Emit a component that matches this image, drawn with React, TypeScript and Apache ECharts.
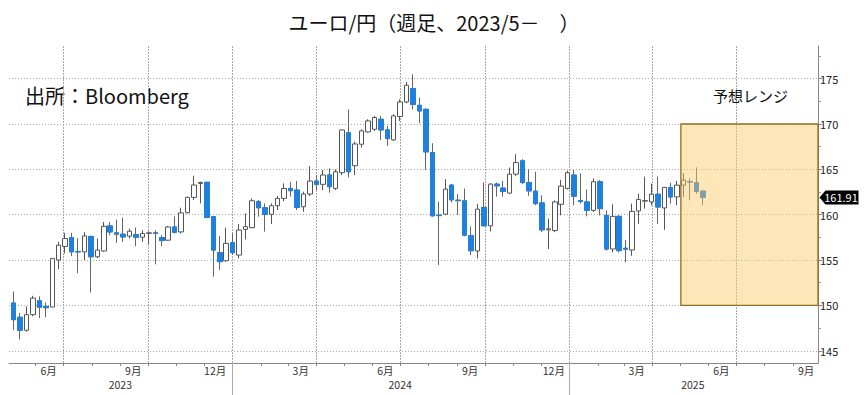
import React, { useEffect, useRef } from "react";
import * as echarts from "echarts";

// ---- data (weekly EUR/JPY) ----
const firstWeek = "2023-05-08";
const opens = [
  150.26, 148.69, 147.26, 148.98, 150.51, 149.9, 149.82, 155.0, 156.5, 157.48,
  155.95, 155.9, 157.6, 155.36, 156.0, 158.76, 158.0, 157.85, 157.63, 157.81,
  157.52, 157.95, 158.0, 157.48, 157.19, 158.65, 158.1, 160.22, 161.91, 163.45,
  163.57, 159.78, 155.81, 154.93, 156.91, 155.55, 158.38, 158.57, 161.43, 160.77,
  160.04, 160.99, 161.8, 162.9, 162.72, 160.88, 162.28, 163.71, 163.35, 164.38,
  162.9, 164.63, 169.04, 165.4, 167.77, 169.13, 169.42, 170.52, 169.35, 168.25,
  170.82, 172.43, 173.9, 172.06, 171.62, 166.85, 159.95, 160.06, 163.26, 161.6,
  161.53, 157.68, 156.0, 160.8, 158.78, 163.37, 162.93, 162.38, 164.47, 165.94,
  163.55, 162.59, 161.3, 158.33, 158.26, 161.15, 162.89, 164.37, 161.55, 161.41,
  160.48, 163.63, 159.93, 156.22, 159.82, 156.3, 156.11, 160.41, 161.5, 161.41,
  162.26, 160.74, 163.0, 161.96, 163.26, 163.65, 163.52, 162.59,
];
const closes = [
  148.43, 147.26, 148.98, 150.8, 149.78, 149.75, 155.18, 156.64, 157.37, 155.91,
  155.9, 157.66, 155.36, 156.1, 158.72, 158.1, 157.85, 157.55, 158.18, 157.52,
  157.92, 158.0, 157.95, 157.15, 158.65, 158.07, 160.2, 161.91, 163.27, 163.55,
  159.7, 156.1, 154.82, 156.84, 155.81, 158.31, 158.68, 161.54, 160.77, 160.04,
  160.99, 161.8, 162.9, 162.65, 160.81, 162.28, 163.71, 163.35, 164.38, 163.09,
  164.74, 169.34, 164.74, 167.8, 169.24, 170.34, 170.71, 169.35, 168.39, 170.89,
  172.43, 174.27, 172.17, 171.44, 166.93, 159.88, 159.9, 162.82, 161.64, 161.55,
  157.75, 156.03, 160.61, 158.78, 163.37, 163.18, 162.56, 164.47, 165.75, 163.55,
  162.63, 161.22, 158.33, 158.44, 161.41, 163.15, 164.63, 162.04, 161.45, 160.48,
  163.63, 160.67, 156.22, 159.82, 156.04, 156.2, 160.37, 161.67, 161.55, 162.26,
  160.85, 163.0, 161.96, 163.26, 163.81, 163.63, 162.59, 161.91,
];
const lows = [
  147.26, 146.24, 147.1, 148.8, 148.6, 148.7, 149.8, 154.0, 155.73, 155.44,
  153.55, 155.0, 151.42, 155.2, 155.9, 157.74, 156.9, 157.0, 157.37, 156.53,
  157.0, 156.75, 154.53, 156.53, 157.12, 157.92, 157.92, 160.15, 161.62, 161.25,
  159.6, 153.16, 153.9, 154.82, 155.55, 155.18, 157.28, 158.5, 159.78, 158.13,
  158.97, 160.51, 161.5, 161.99, 160.51, 160.33, 162.06, 162.72, 162.72, 162.43,
  162.72, 164.38, 164.12, 164.38, 167.4, 169.06, 169.24, 168.25, 167.59, 168.14,
  170.34, 172.28, 171.62, 170.08, 164.94, 159.8, 154.45, 159.95, 161.35, 159.99,
  157.61, 155.55, 155.18, 158.71, 158.16, 162.0, 162.0, 162.27, 164.28, 163.37,
  162.08, 161.04, 158.07, 156.22, 158.07, 159.93, 162.78, 161.04, 161.22, 159.82,
  160.3, 159.93, 156.04, 155.85, 155.85, 154.74, 155.48, 159.0, 160.67, 161.04,
  159.0, 158.33, 161.22, 161.04, 161.96, 161.6, 162.33, 161.04,
];
const highs = [
  151.53, 149.16, 149.89, 151.06, 151.0, 150.33, 155.2, 157.0, 158.0, 158.0,
  157.4, 158.07, 157.7, 157.37, 159.2, 159.2, 159.45, 159.67, 158.47, 158.58,
  158.28, 158.18, 158.28, 157.74, 158.76, 159.82, 160.77, 162.0, 164.3, 163.64,
  163.64, 159.85, 157.65, 158.57, 157.94, 158.97, 160.15, 161.8, 161.62, 161.25,
  161.25, 162.06, 163.46, 163.64, 163.71, 162.54, 165.37, 164.38, 164.93, 165.11,
  165.0, 169.4, 171.6, 168.05, 169.42, 170.52, 170.89, 170.89, 169.79, 171.07,
  172.72, 174.63, 175.48, 172.91, 171.7, 167.88, 161.42, 163.92, 163.37, 162.27,
  162.89, 158.71, 161.17, 163.55, 163.48, 163.55, 163.73, 165.2, 166.67, 166.12,
  165.0, 164.74, 162.15, 159.56, 161.59, 163.81, 164.85, 164.93, 164.56, 162.78,
  164.0, 163.81, 160.48, 161.15, 159.93, 157.22, 161.22, 162.33, 164.19, 163.44,
  164.19, 163.07, 163.52, 163.74, 164.56, 164.0, 165.22, 162.7,
];
const lastLabel = "161.91";

const xMin = "2023-05-03";
const xMax = "2025-09-28";
const yMin = 143.65;
const yMax = 178.6;
const yTickValues = [145, 150, 155, 160, 165, 170, 175];
const yMinorTickValues = [147.5, 152.5, 157.5, 162.5, 167.5, 172.5, 177.5];
const quarterStarts = [
  "2023-07-01", "2023-10-01", "2024-01-01", "2024-04-01", "2024-07-01",
  "2024-10-01", "2025-01-01", "2025-04-01", "2025-07-01",
];
const monthLabelDates = [
  "2023-06-15", "2023-09-15", "2023-12-13", "2024-03-15", "2024-06-15",
  "2024-09-15", "2024-12-15", "2025-03-15", "2025-06-15", "2025-09-15",
];
const yearStarts = ["2024-01-01", "2025-01-01"];
const yearLabelDates = ["2023-09-01", "2024-07-01", "2025-05-15"];
const rangeStart = "2025-05-02";
const rangeLow = 150;
const rangeHigh = 170;

const titleText = "ユーロ/円（週足、2023/5－　）";
const sourceText = "出所：Bloomberg";
const rangeText = "予想レンジ";

const FONT = "'Noto Sans CJK JP', 'Noto Sans', sans-serif";
const BLUE = "#1f80e0";

const ts = (s: string) => {
  const [y, m, d] = s.split("-").map(Number);
  return new Date(y, m - 1, d).getTime();
};

function weekDates(): number[] {
  const [y, m, d] = firstWeek.split("-").map(Number);
  return opens.map((_, i) => new Date(y, m - 1, d + 7 * i).getTime());
}

function monthStarts(): number[] {
  const out: number[] = [];
  const a = new Date(ts(xMin));
  let y = a.getFullYear();
  let m = a.getMonth() + 1;
  while (new Date(y, m, 1).getTime() <= ts(xMax)) {
    out.push(new Date(y, m, 1).getTime());
    m++;
    if (m > 11) { m = 0; y++; }
  }
  return out;
}

export default function App() {
  const ref = useRef<HTMLDivElement>(null);
  useEffect(() => {
    if (!ref.current) return;
    const chart = echarts.init(ref.current, undefined, { renderer: "svg" });
    const dates = weekDates();
    const all = dates.map((t, i) => [t, opens[i], closes[i], lows[i], highs[i]]);
    const downs = dates
      .map((t, i) => [t, opens[i], closes[i], closes[i], opens[i]])
      .filter((_, i) => closes[i] < opens[i]);
    const lastT = ts(xMax);
    const gridLine = { color: "#a8a8a8", type: [1, 2], width: 1 };

    chart.setOption({
      animation: false,
      textStyle: { fontFamily: FONT },
      title: {
        text: titleText,
        left: "center",
        top: 7,
        textStyle: { fontSize: 20, fontWeight: "normal", color: "#111", fontFamily: FONT },
      },
      grid: { left: 9, right: 50, top: 46, bottom: 32 },
      xAxis: [
        {
          type: "value",
          min: ts(xMin),
          max: lastT,
          position: "bottom",
          axisLine: { show: true, lineStyle: { color: "#888", width: 1 } },
          axisTick: { show: true, customValues: monthStarts(), length: 3, lineStyle: { color: "#888" } },
          axisLabel: {
            customValues: monthLabelDates.map(ts),
            formatter: (v: number) => `${new Date(v).getMonth() + 1}月`,
            fontSize: 10.5,
            color: "#333",
            margin: 2,
            fontFamily: FONT,
          },
          splitLine: { show: false },
        },
        {
          type: "value",
          min: ts(xMin),
          max: lastT,
          position: "bottom",
          offset: 0,
          axisLine: { show: false },
          axisTick: { show: true, customValues: yearStarts.map(ts), length: 32, lineStyle: { color: "#aaa" } },
          axisLabel: {
            customValues: yearLabelDates.map(ts),
            formatter: (v: number) => String(new Date(v).getFullYear()),
            fontSize: 10.5,
            color: "#333",
            margin: 16,
            fontFamily: FONT,
          },
          splitLine: { show: false },
        },
        {
          type: "value",
          min: ts(xMin),
          max: lastT,
          position: "top",
          show: true,
          axisLine: { show: false },
          axisTick: { show: false, customValues: quarterStarts.map(ts) },
          axisLabel: { show: false, customValues: quarterStarts.map(ts) },
          splitLine: { show: true, lineStyle: gridLine },
        },
      ],
      yAxis: [
        {
          type: "value",
          position: "right",
          min: yMin,
          max: yMax,
          axisLine: { show: true, lineStyle: { color: "#888" } },
          axisTick: { show: true, customValues: yTickValues, length: 4, lineStyle: { color: "#888" } },
          axisLabel: { customValues: yTickValues, fontSize: 11, color: "#222", margin: 2, fontFamily: FONT },
          splitLine: { show: false },
        },
        {
          type: "value",
          position: "right",
          offset: 0,
          min: yMin,
          max: yMax,
          axisLine: { show: false },
          axisTick: { show: true, customValues: yMinorTickValues, length: 3, lineStyle: { color: "#999" } },
          axisLabel: { show: false },
          splitLine: { show: false },
        },
      ],
      series: [
        {
          type: "line",
          data: [],
          silent: true,
          markLine: {
            silent: true,
            z: 1,
            symbol: ["none", "none"],
            label: { show: false },
            lineStyle: gridLine,
            emphasis: { disabled: true },
            data: [
              ...yTickValues.map((v) => ({ yAxis: v })),
              ...quarterStarts.map((d) => ({ xAxis: ts(d) })),
            ],
          },
        },
        {
          type: "candlestick",
          z: 3,
          barWidth: 5,
          encode: { x: 0, y: [1, 2, 3, 4] },
          data: all,
          itemStyle: {
            color: "#fff",
            color0: "#fff",
            borderColor: "#555",
            borderColor0: "#666",
            borderWidth: 1,
          },
        },
        {
          type: "candlestick",
          z: 4,
          barWidth: 5,
          encode: { x: 0, y: [1, 2, 3, 4] },
          data: downs,
          itemStyle: {
            color: BLUE,
            color0: BLUE,
            borderColor: BLUE,
            borderColor0: BLUE,
            borderWidth: 1,
          },
        },
        {
          type: "line",
          data: [],
          silent: true,
          markArea: {
            silent: true,
            z: 10,
            itemStyle: {
              color: "rgba(250, 200, 95, 0.45)",
              borderColor: "#8f6f22",
              borderWidth: 1.3,
            },
            data: [[
              { xAxis: ts(rangeStart), yAxis: rangeHigh },
              { xAxis: lastT, yAxis: rangeLow },
            ]],
          },
          markPoint: {
            silent: true,
            z: 12,
            symbol: "path://M0,7 L6,0 L39,0 L39,14 L6,14 Z",
            symbolSize: [39, 14],
            symbolOffset: [21, 0],
            itemStyle: { color: "#000" },
            label: {
              show: true,
              position: "inside",
              offset: [2, 0],
              color: "#fff",
              fontSize: 11,
              fontFamily: FONT,
              formatter: lastLabel,
            },
            data: [{ coord: [lastT, closes[closes.length - 1]] }],
          },
        },
      ],
      graphic: [
        {
          type: "text",
          left: 25,
          top: 85,
          style: { text: sourceText, fontSize: 20, fill: "#111", fontFamily: FONT },
        },
        {
          type: "text",
          left: 713,
          top: 88,
          z: 20,
          style: { text: rangeText, fontSize: 15, fill: "#111", fontFamily: FONT },
        },
      ],
    });
    return () => chart.dispose();
  }, []);
  return (
    <div
      ref={ref}
      style={{ position: "fixed", left: 0, top: 0, width: 868, height: 395, background: "#fff" }}
    />
  );
}
